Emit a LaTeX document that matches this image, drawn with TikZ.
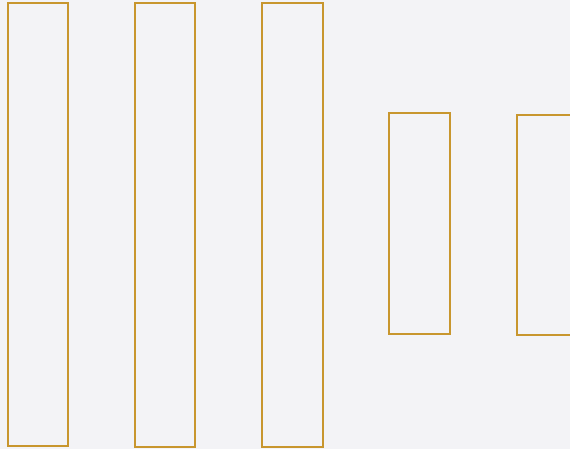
\documentclass[tikz,border=0pt]{standalone}
\definecolor{bg}{HTML}{F3F3F6}
\definecolor{gold}{HTML}{C8962E}
\begin{document}
\begin{tikzpicture}[x=1pt,y=-1pt,
  bar/.style={draw=gold, line width=1.6pt, fill=none, anchor=north west, inner sep=0pt, outer sep=0pt}]
\useasboundingbox (0,0) rectangle (570,449);
\fill[bg] (0,0) rectangle (570,449);
\clip (0,0) rectangle (570,449);
\node[bar, minimum width=60pt, minimum height=443pt] (r1) at (8,3) {};
\node[bar, minimum width=60pt, minimum height=444pt] (r2) at (135,3) {};
\node[bar, minimum width=61pt, minimum height=444pt] (r3) at (262,3) {};
\node[bar, minimum width=61pt, minimum height=221pt] (r4) at (389,113) {};
\node[bar, minimum width=60pt, minimum height=220pt] (r5) at (517,115) {};
\end{tikzpicture}
\end{document}
